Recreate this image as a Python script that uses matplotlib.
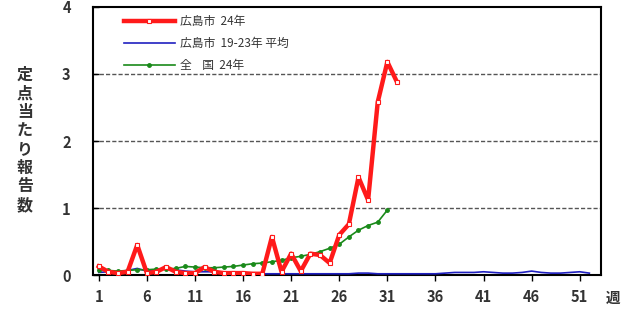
import matplotlib
matplotlib.use("Agg")
import matplotlib.pyplot as plt
import numpy as np

plt.rcParams['font.family'] = ['Noto Sans CJK JP', 'DejaVu Sans']

weeks_red = list(range(1, 33))
hiroshima_24 = [0.13, 0.05, 0.03, 0.05, 0.45, 0.03, 0.05, 0.12, 0.05, 0.03,
                0.03, 0.12, 0.05, 0.03, 0.03, 0.03, 0.02, 0.02, 0.57, 0.05,
                0.32, 0.06, 0.32, 0.30, 0.18, 0.60, 0.76, 1.46, 1.12, 2.58,
                3.18, 2.88]

weeks_green = list(range(1, 32))
national_24 = [0.08, 0.07, 0.06, 0.07, 0.08, 0.08, 0.09, 0.09, 0.10, 0.13,
               0.12, 0.11, 0.11, 0.12, 0.13, 0.15, 0.17, 0.18, 0.20, 0.22,
               0.26, 0.28, 0.31, 0.35, 0.40, 0.46, 0.57, 0.67, 0.74, 0.79,
               0.97]

weeks_blue = list(range(1, 53))
hiroshima_avg = [0.04, 0.05, 0.05, 0.07, 0.10, 0.06, 0.07, 0.10, 0.08, 0.06,
                 0.05, 0.05, 0.05, 0.04, 0.04, 0.03, 0.03, 0.02, 0.02, 0.02,
                 0.02, 0.02, 0.02, 0.02, 0.02, 0.02, 0.02, 0.03, 0.03, 0.02,
                 0.02, 0.02, 0.02, 0.02, 0.02, 0.02, 0.03, 0.04, 0.04, 0.04,
                 0.05, 0.04, 0.03, 0.03, 0.04, 0.06, 0.04, 0.03, 0.03, 0.04,
                 0.05, 0.03]

xticks = [1, 6, 11, 16, 21, 26, 31, 36, 41, 46, 51]
yticks = [0, 1, 2, 3, 4]
labels = ['広島市  24年', '広島市  19-23年 平均', '全    国  24年']
ylabel = '定点当たり報告数'

fig = plt.figure(figsize=(6.24, 3.13), dpi=100)
ax = fig.add_axes([0.149, 0.121, 0.814, 0.857])

ax.plot(weeks_red, hiroshima_24, color='#ff1a1a', lw=3.2, marker='s', ms=3.5,
        mfc='white', mec='#ff1a1a', mew=0.8, label=labels[0], zorder=4)
ax.plot(weeks_blue, hiroshima_avg, color='#2020c0', lw=1.2, label=labels[1], zorder=3)
ax.plot(weeks_green, national_24, color='#1a8a1a', lw=1.2, marker='o', ms=2.5,
        label=labels[2], zorder=3)

ax.set_xlim(0.4, 53.2)
ax.set_ylim(0, 4)
ax.set_xticks(xticks)
ax.set_yticks(yticks)
ax.tick_params(axis='x', direction='out', length=4, width=1, labelsize=10.5, pad=6)
ax.tick_params(axis='y', direction='in', length=4, width=1, labelsize=10.5, pad=16)
for lbl in ax.get_xticklabels() + ax.get_yticklabels():
    lbl.set_fontweight('bold')
    lbl.set_color('#333333')

for yv in [1, 2, 3]:
    ax.axhline(yv, color='#555555', lw=1, ls=(0, (3, 1.5)), zorder=1)

for s in ax.spines.values():
    s.set_linewidth(1.5)
    s.set_color('black')

ax.text(1.01, -0.085, '週', transform=ax.transAxes, fontsize=10.5, fontweight='bold',
        ha='left', va='center', color='#333333')

fig.text(0.040, 0.553, '\n'.join(ylabel), fontsize=11.5, fontweight='bold',
         ha='center', va='center', linespacing=1.2, color='#333333')

leg = ax.legend(loc='upper left', bbox_to_anchor=(0.045, 1.0), frameon=False,
                fontsize=8.5, handlelength=4.3, labelspacing=0.75, borderaxespad=0.3,
                handletextpad=0.4)
for t in leg.get_texts():
    t.set_color('#333333')

fig.savefig('out.png', dpi=100)
